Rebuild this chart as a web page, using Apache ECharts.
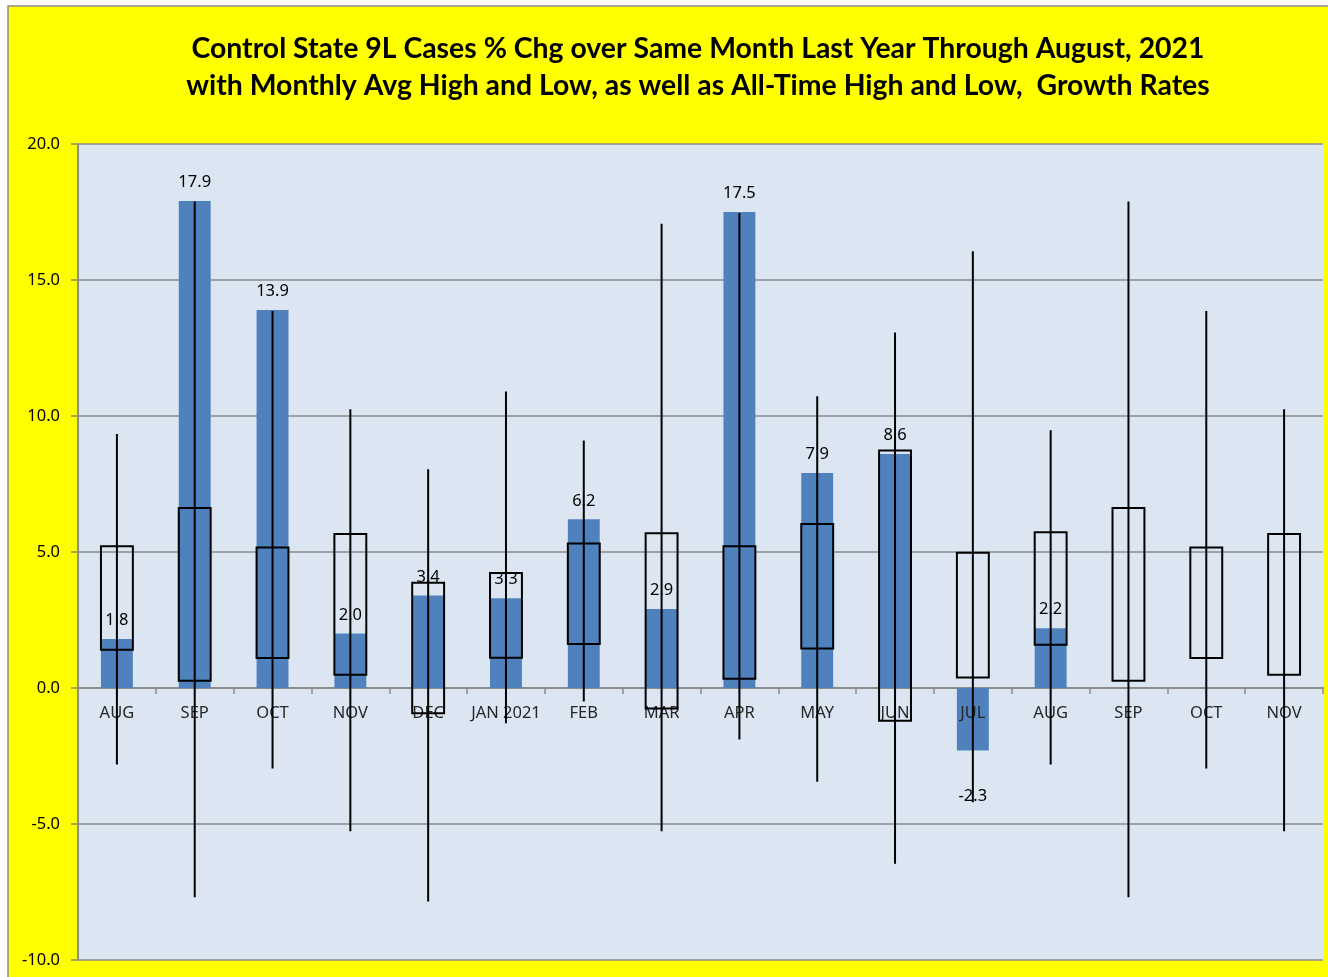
<!DOCTYPE html>
<html>
<head>
<meta charset="utf-8">
<script src="https://cdn.jsdelivr.net/npm/echarts@6/dist/echarts.min.js"></script>
<style>
  html, body { margin: 0; padding: 0; background: #ffffff; }
  #chart { width: 1328px; height: 977px; }
</style>
</head>
<body>
<div id="chart"></div>
<script>
const categories = ['AUG','SEP','OCT','NOV','DEC','JAN 2021','FEB','MAR','APR','MAY','JUN','JUL','AUG','SEP','OCT','NOV'];
const currentGrowth = [1.8, 17.9, 13.9, 2.0, 3.4, 3.3, 6.2, 2.9, 17.5, 7.9, 8.6, -2.3, 2.2, null, null, null];
const allTimeHigh = [9.34, 17.89, 13.86, 10.25, 8.04, 10.9, 9.1, 17.07, 17.46, 10.73, 13.07, 16.06, 9.48, 17.89, 13.86, 10.25];
const allTimeLow  = [-2.81, -7.69, -2.96, -5.27, -7.85, -1.30, -0.50, -5.27, -1.89, -3.45, -6.46, -4.2, -2.81, -7.69, -2.96, -5.27];
const avgHigh     = [5.21, 6.62, 5.17, 5.66, 3.87, 4.23, 5.31, 5.69, 5.21, 6.03, 8.73, 4.97, 5.73, 6.62, 5.17, 5.66];
const avgLow      = [1.41, 0.27, 1.10, 0.49, -0.93, 1.11, 1.62, -0.75, 0.34, 1.45, -1.2, 0.39, 1.59, 0.27, 1.10, 0.49];
const yTicks = { min: -10, max: 20, interval: 5 };

const chart = echarts.init(document.getElementById('chart'));

const barData = currentGrowth.map(v => {
  if (v === null) return { value: null };
  return {
    value: v,
    label: v < 0 ? { position: 'bottom', distance: 37 } : { position: 'top', distance: 10 }
  };
});

const rangeData = categories.map((c, i) => [i, allTimeHigh[i], allTimeLow[i], avgHigh[i], avgLow[i]]);
const labelData = categories.map((c, i) => [i, 0]);

chart.setOption({
  animation: false,
  backgroundColor: '#ffffff',
  graphic: [{
    type: 'rect',
    z: -10,
    silent: true,
    shape: { x: 8, y: 6, width: 1340, height: 990 },
    style: { fill: '#FFFF00', stroke: '#8C8C8C', lineWidth: 1.5 }
  }],
  title: {
    text: 'Control State 9L Cases % Chg over Same Month Last Year Through August, 2021\nwith Monthly Avg High and Low, as well as All-Time High and Low,  Growth Rates',
    left: 693,
    textAlign: 'center',
    top: 25,
    textStyle: {
      fontFamily: 'Lato',
      fontWeight: 'bold',
      fontSize: 28.4,
      lineHeight: 37,
      color: '#000000'
    }
  },
  grid: {
    left: 78, right: 5, top: 144, bottom: 17,
    outerBoundsMode: 'none',
    containLabel: false,
    show: true,
    backgroundColor: '#DCE6F2',
    borderWidth: 0
  },
  xAxis: {
    type: 'category',
    data: categories,
    axisLine: { onZero: true, lineStyle: { color: '#8C8C8C', width: 2 } },
    axisTick: { show: true, length: 6, lineStyle: { color: '#8C8C8C', width: 1.5 } },
    axisLabel: { show: false },
    splitLine: { show: false }
  },
  yAxis: {
    type: 'value',
    min: yTicks.min, max: yTicks.max, interval: yTicks.interval,
    axisLine: { show: true, lineStyle: { color: '#8C8C8C', width: 2 } },
    axisTick: { show: true, length: 7, lineStyle: { color: '#8C8C8C', width: 1.5 } },
    axisLabel: { color: '#000000', fontFamily: 'Noto Sans', fontSize: 16.5, margin: 18, formatter: v => v.toFixed(1) },
    splitLine: { show: true, lineStyle: { color: '#8C8C8C', width: 1.5 } }
  },
  series: [
    {
      type: 'bar',
      data: barData,
      barWidth: '41%',
      itemStyle: { color: '#4F81BD' },
      label: {
        show: true,
        color: '#000000',
        fontFamily: 'Noto Sans',
        fontSize: 16.5,
        formatter: p => (p.value === null || p.value === undefined) ? '' : Number(p.value).toFixed(1)
      },
      z: 2
    },
    {
      type: 'custom',
      data: rangeData,
      z: 5,
      renderItem: function (params, api) {
        const x = api.value(0);
        const hi = api.coord([x, api.value(1)]);
        const lo = api.coord([x, api.value(2)]);
        const bt = api.coord([x, api.value(3)]);
        const bb = api.coord([x, api.value(4)]);
        const w = api.size([1, 0])[0] * 0.41;
        return {
          type: 'group',
          children: [
            {
              type: 'rect',
              shape: { x: bt[0] - w / 2, y: bt[1], width: w, height: bb[1] - bt[1] },
              style: { fill: 'none', stroke: '#000000', lineWidth: 2 }
            },
            {
              type: 'line',
              shape: { x1: hi[0], y1: hi[1], x2: lo[0], y2: lo[1] },
              style: { stroke: '#000000', lineWidth: 2 }
            }
          ]
        };
      }
    },
    {
      type: 'custom',
      data: labelData,
      z: 4,
      silent: true,
      renderItem: function (params, api) {
        const p = api.coord([api.value(0), api.value(1)]);
        return {
          type: 'text',
          x: p[0],
          y: p[1] + 25,
          style: {
            text: categories[params.dataIndex],
            align: 'center',
            verticalAlign: 'middle',
            fontFamily: 'Noto Sans',
            fontSize: 16.5,
            fill: '#262626'
          }
        };
      }
    }
  ]
});
</script>
</body>
</html>
